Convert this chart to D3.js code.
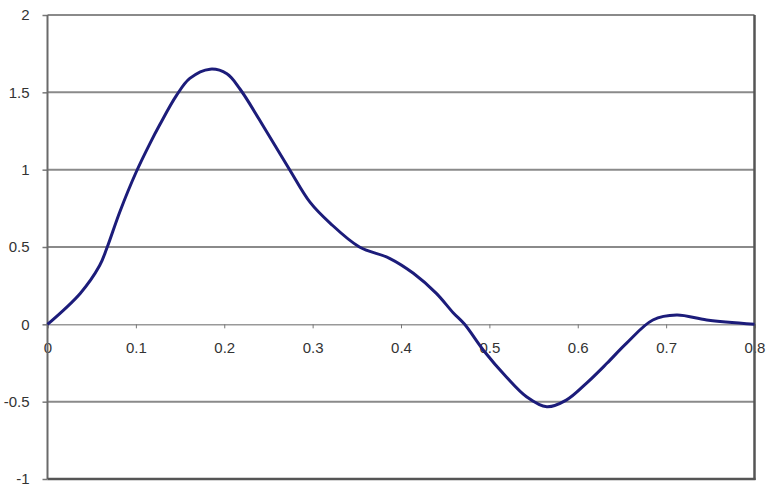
<!DOCTYPE html>
<html>
<head>
<meta charset="utf-8">
<script src="https://cdn.jsdelivr.net/npm/d3@7"></script>
<style>
  html, body { margin: 0; padding: 0; background: #fff; }
  svg { display: block; }
  text { font-family: "Liberation Sans", Arial, sans-serif; }
</style>
</head>
<body>
<svg id="chart" width="768" height="489"></svg>
<script>
// Data
const xValues = [0, 0.037, 0.059, 0.067, 0.082, 0.1, 0.116, 0.127, 0.146, 0.161, 0.184, 0.203, 0.218, 0.248, 0.274, 0.297, 0.32, 0.353, 0.387, 0.414, 0.44, 0.459, 0.472, 0.493, 0.519, 0.542, 0.565, 0.587, 0.61, 0.633, 0.655, 0.685, 0.712, 0.746, 0.8];
const yValues = [0, 0.2, 0.38, 0.49, 0.73, 0.98, 1.17, 1.29, 1.48, 1.59, 1.65, 1.62, 1.52, 1.245, 1.0, 0.79, 0.653, 0.5, 0.427, 0.33, 0.2, 0.075, 0, -0.166, -0.339, -0.468, -0.533, -0.49, -0.38, -0.252, -0.123, 0.028, 0.06, 0.028, 0];
const xTicks = [0, 0.1, 0.2, 0.3, 0.4, 0.5, 0.6, 0.7, 0.8];
const xTickLabels = ["0", "0.1", "0.2", "0.3", "0.4", "0.5", "0.6", "0.7", "0.8"];
const yTicks = [2, 1.5, 1, 0.5, 0, -0.5, -1];
const yTickLabels = ["2", "1.5", "1", "0.5", "0", "-0.5", "-1"];

const svg = d3.select("#chart");
const mLeft = 47.5, mRight = 754.5, mTop = 15, mBottom = 479;

const x = d3.scaleLinear().domain([0, 0.8]).range([mLeft, mRight]);
const y = d3.scaleLinear().domain([-1, 2]).range([mBottom, mTop]);

// Gridlines
svg.append("g").selectAll("line")
  .data(yTicks.filter(d => d !== 0 && d !== -1))
  .join("line")
  .attr("x1", mLeft).attr("x2", mRight)
  .attr("y1", d => y(d)).attr("y2", d => y(d))
  .attr("stroke", "#8a8a8a").attr("stroke-width", 2);

// Y axis labels + small left ticks
const yAxis = d3.axisLeft(y).tickValues(yTicks)
  .tickFormat((d) => yTickLabels[yTicks.indexOf(d)])
  .tickSize(5).tickPadding(13);
const gy = svg.append("g").attr("transform", `translate(${mLeft},0)`).call(yAxis);
gy.select(".domain").remove();
gy.selectAll(".tick line").attr("stroke", "#777").attr("stroke-width", 1.5);
gy.selectAll(".tick text").attr("font-size", 15).attr("fill", "#333");

// Zero line (x axis)
const xAxis = d3.axisBottom(x).tickValues(xTicks)
  .tickFormat((d) => xTickLabels[xTicks.indexOf(d)])
  .tickSize(4).tickPadding(14);
const gx = svg.append("g").attr("transform", `translate(0,${y(0)})`).call(xAxis);
gx.select(".domain").attr("stroke", "#999").attr("stroke-width", 1.5);
gx.selectAll(".tick line").attr("stroke", "#777").attr("stroke-width", 1);
gx.selectAll(".tick text").attr("font-size", 15).attr("fill", "#333");

// Border: left, right, bottom
svg.append("line").attr("x1", mLeft).attr("x2", mLeft).attr("y1", mTop).attr("y2", mBottom)
  .attr("stroke", "#6a6a6a").attr("stroke-width", 2);
svg.append("line").attr("x1", mRight).attr("x2", mRight).attr("y1", mTop).attr("y2", mBottom + 1)
  .attr("stroke", "#555").attr("stroke-width", 2.5);
svg.append("line").attr("x1", mLeft).attr("x2", mRight + 1).attr("y1", mBottom).attr("y2", mBottom)
  .attr("stroke", "#555").attr("stroke-width", 2.5);

// Data line
const data = xValues.map((d, i) => [d, yValues[i]]);
svg.append("path")
  .datum(data)
  .attr("fill", "none")
  .attr("stroke", "#1c1c7a")
  .attr("stroke-width", 3)
  .attr("stroke-linejoin", "round")
  .attr("d", d3.line().x(d => x(d[0])).y(d => y(d[1])).curve(d3.curveCatmullRom.alpha(0.5)));
</script>
</body>
</html>
